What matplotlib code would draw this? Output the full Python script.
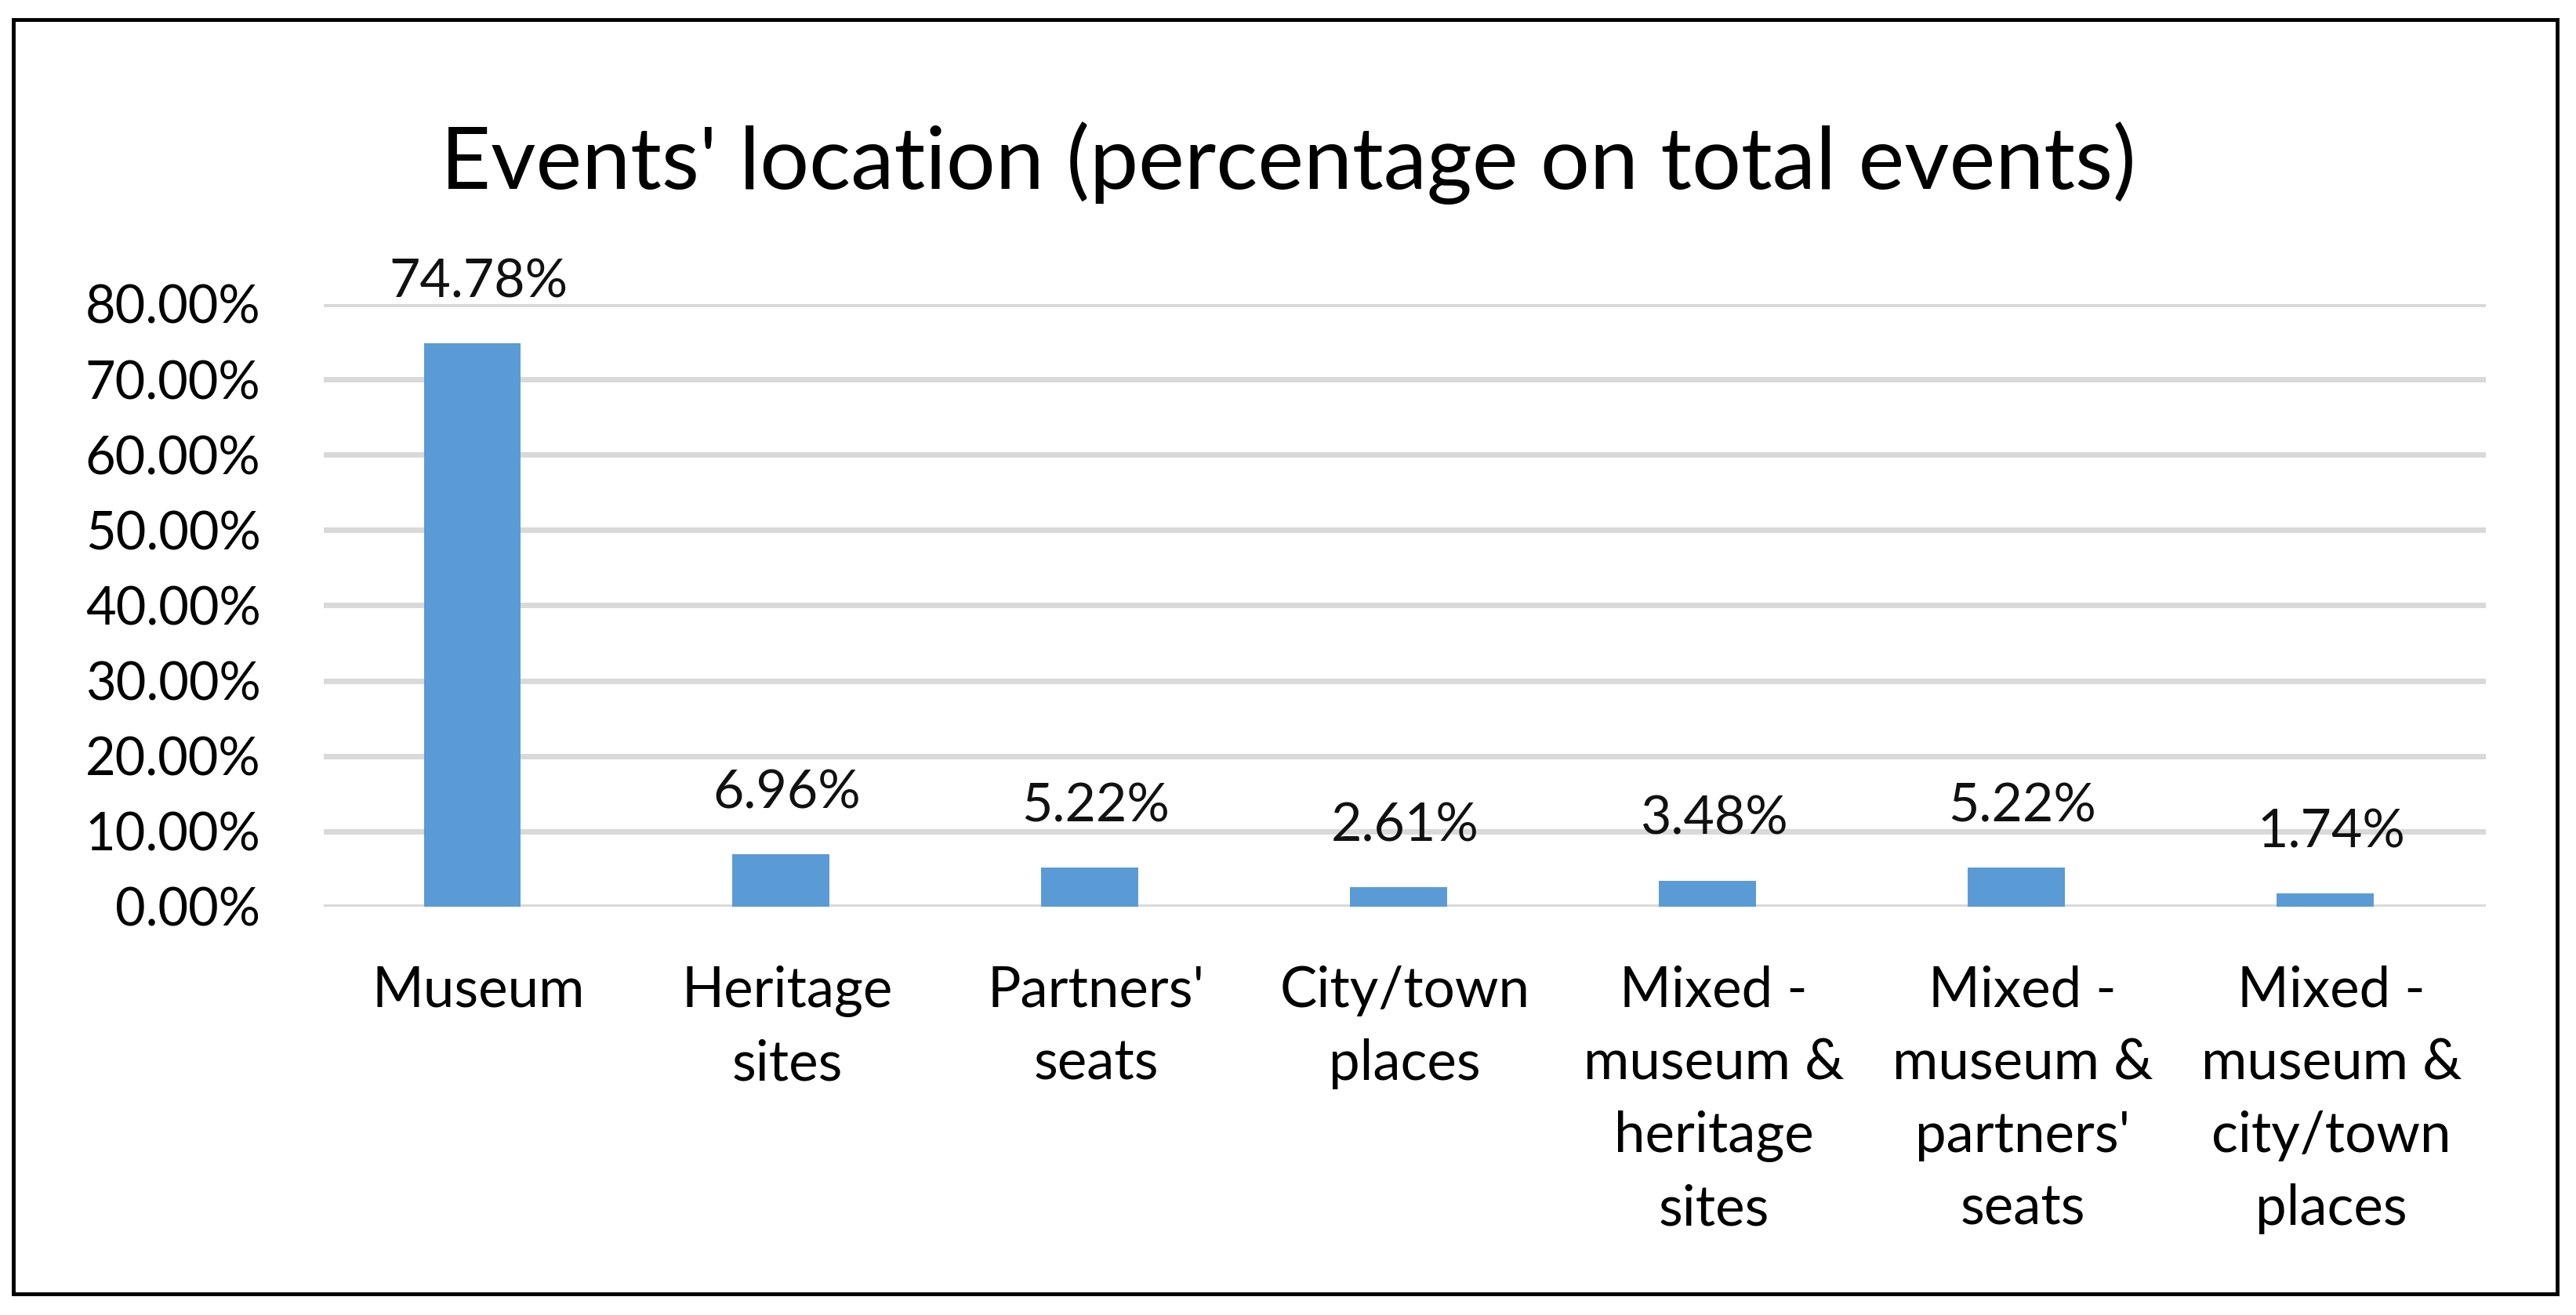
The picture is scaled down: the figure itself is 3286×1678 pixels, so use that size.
import matplotlib
matplotlib.use("Agg")
import matplotlib.pyplot as plt
from matplotlib.patches import Rectangle
from matplotlib.ticker import FuncFormatter

categories = [
    "Museum",
    "Heritage\nsites",
    "Partners'\nseats",
    "City/town\nplaces",
    "Mixed -\nmuseum &\nheritage\nsites",
    "Mixed -\nmuseum &\npartners'\nseats",
    "Mixed -\nmuseum &\ncity/town\nplaces",
]
shares = [0.7478, 0.0696, 0.0522, 0.0261, 0.0348, 0.0522, 0.0174]
y_ticks = [0.0, 0.1, 0.2, 0.3, 0.4, 0.5, 0.6, 0.7, 0.8]

plt.rcParams["font.family"] = ["Lato", "DejaVu Sans"]

fig = plt.figure(figsize=(32.86, 16.78), dpi=100)
ax = fig.add_axes([0.1257, 0.3105, 0.965 - 0.1257, 0.7688 - 0.3105])

x = range(len(categories))
ax.bar([i - 0.02 for i in x], shares, width=0.313, color="#5B9BD5", zorder=3)

for i, v in enumerate(shares):
    ax.annotate("%.2f%%" % (v * 100), (i, v), xytext=(0, 56), textcoords="offset points",
                ha="center", va="center", fontsize=49, color="#111111")

ax.set_xlim(-0.5, len(categories) - 0.5)
ax.set_ylim(0, 0.8)
ax.set_yticks(y_ticks)
ax.yaxis.set_major_formatter(FuncFormatter(lambda v, p: "%.2f%%" % (v * 100)))
ax.set_xticks(list(x))
ax.set_xticklabels(categories, fontsize=51, linespacing=1.52)
ax.tick_params(axis="y", labelsize=48, length=0, pad=58)
ax.tick_params(axis="x", length=0, pad=54)
ax.grid(axis="y", color="#D9D9D9", linewidth=5, zorder=0)
for s in ax.spines.values():
    s.set_visible(False)

fig.suptitle("Events' location (percentage on total events)", fontsize=80, y=1 - 208 / 1678, va="center")

# outer frame
fig.patches.append(Rectangle((17 / 3286, 1 - 1651 / 1678), (3262 - 17) / 3286, (1651 - 25) / 1678,
                             transform=fig.transFigure, fill=False, edgecolor="black", linewidth=3.5))

plt.savefig("out.png", dpi=100)
